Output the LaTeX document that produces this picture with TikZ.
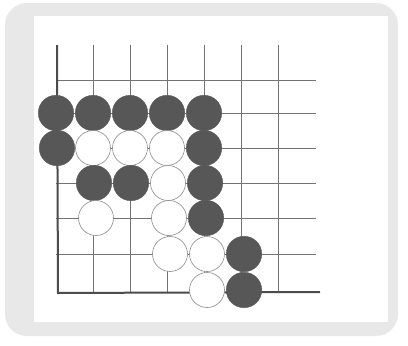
\documentclass[tikz,border=0pt]{standalone}
\begin{document}
\begin{tikzpicture}[x=1pt,y=-1pt,
  gridline/.style={draw=black!55,line width=0.7pt},
  edgeline/.style={draw=black!70,line width=2pt},
  bstone/.style={circle,minimum size=35.5pt,inner sep=0pt,fill=black!66,draw=black!66},
  wstone/.style={circle,minimum size=35pt,inner sep=0pt,fill=white,draw=black!45,line width=0.6pt}]
\useasboundingbox (0,0) rectangle (408,346);
\fill[white] (0,0) rectangle (408,346);
\fill[black!9,rounded corners=22pt] (5,3) rectangle (398,336);
\fill[white] (34,16) rectangle (388,322);
% grid
\foreach \c in {1,...,6} \draw[gridline] (56+37*\c,45) -- (56+37*\c,292);
\foreach \y in {80,113,148,183,218,254} \draw[gridline] (56,\y) -- (316,\y);
\draw[edgeline] (57,45) -- (58,293) -- (320,292);
% stones
\foreach \c in {0,...,4} \node[bstone] (b1\c) at (56+37*\c,113) {};
\node[bstone] (b20) at (57,148) {};
\node[wstone] (w21) at (93,148) {};
\node[wstone] (w22) at (130,148) {};
\node[wstone] (w23) at (167,148) {};
\node[bstone] (b24) at (204,148) {};
\node[bstone] (b31) at (94,183) {};
\node[bstone] (b32) at (131,183) {};
\node[wstone] (w33) at (168,183) {};
\node[bstone] (b34) at (205,183) {};
\node[wstone] (w41) at (96,218) {};
\node[wstone] (w43) at (169,218) {};
\node[bstone] (b44) at (206,218) {};
\node[wstone] (w53) at (170,254) {};
\node[wstone] (w54) at (207,254) {};
\node[bstone] (b55) at (244,254) {};
\node[wstone] (w64) at (207,290) {};
\node[bstone] (b65) at (244,290) {};
\end{tikzpicture}
\end{document}
